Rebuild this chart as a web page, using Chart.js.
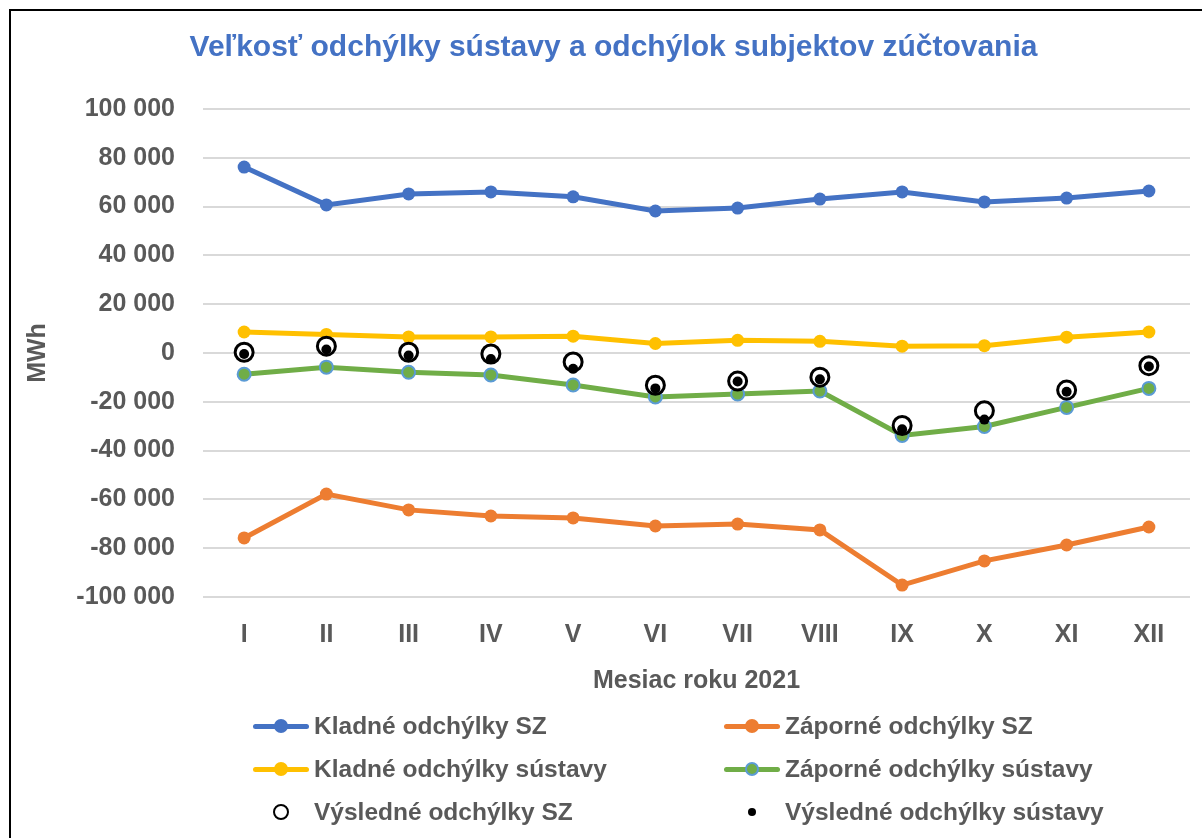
<!DOCTYPE html>
<html>
<head>
<meta charset="utf-8">
<script src="https://cdn.jsdelivr.net/npm/chart.js@4.4.1/dist/chart.umd.min.js"></script>
<style>
  html, body { margin: 0; padding: 0; background: #fff; }
  body { width: 1202px; height: 838px; position: relative; overflow: hidden; font-family: "Liberation Sans", Arial, sans-serif; }
  #frame { position: absolute; left: 9px; top: 9px; width: 1300px; height: 900px; border-left: 2.5px solid #000; border-top: 2.5px solid #000; box-sizing: border-box; }
  #wrap { position: absolute; left: 0; top: 0; width: 1202px; height: 838px; }
  #legend { position: absolute; left: 0; top: 0; width: 1202px; height: 838px; pointer-events: none; }
  .lg-item { position: absolute; height: 30px; display: flex; align-items: center; }
  .lg-text { position: absolute; font: bold 24.5px "Liberation Sans", Arial, sans-serif; color: #595959; white-space: nowrap; line-height: 30px; top: 0; }
</style>
</head>
<body>
<div id="frame"></div>
<div id="wrap"><canvas id="c" width="1202" height="838"></canvas></div>
<div id="legend"></div>
<script>
// ---- data ----
const months = ['I', 'II', 'III', 'IV', 'V', 'VI', 'VII', 'VIII', 'IX', 'X', 'XI', 'XII'];
const kladneSZ = [76200, 60700, 65200, 66000, 64000, 58200, 59400, 63100, 66000, 61900, 63500, 66400];
const zaporneSZ = [-75800, -57800, -64300, -66800, -67600, -70900, -70100, -72500, -95100, -85200, -78700, -71300];
const kladneSustavy = [8600, 7600, 6600, 6600, 6900, 3900, 5200, 4800, 2800, 3000, 6500, 8600];
const zaporneSustavy = [-8700, -5800, -7900, -9000, -13100, -18000, -16800, -15600, -33800, -30100, -22300, -14500];
const vysledneSZ = [300, 2800, 300, -400, -3700, -13200, -11500, -9900, -29700, -23700, -15200, -5200];
const vysledneSustavy = [-400, 1400, -1000, -2500, -6500, -14500, -11700, -10800, -31300, -27300, -15900, -5500];
const seriesNames = ['Kladné odchýlky SZ', 'Záporné odchýlky SZ', 'Kladné odchýlky sústavy', 'Záporné odchýlky sústavy', 'Výsledné odchýlky SZ', 'Výsledné odchýlky sústavy'];
const yMin = -100000, yMax = 100000, yStep = 20000;

const FONT = '"Liberation Sans", Arial, sans-serif';
const GRAY = '#595959';

function lineDs(label, data, color, order, ptBorder) {
  return {
    label, data, order,
    borderColor: color, backgroundColor: color,
    borderWidth: 5,
    pointRadius: 6.5, pointHoverRadius: 6.5,
    pointBackgroundColor: color,
    pointBorderColor: ptBorder || color,
    pointBorderWidth: ptBorder ? 2 : 0,
    tension: 0, fill: false
  };
}

const datasets = [
  lineDs(seriesNames[0], kladneSZ, '#4472C4', 5),
  lineDs(seriesNames[1], zaporneSZ, '#ED7D31', 4),
  lineDs(seriesNames[2], kladneSustavy, '#FFC000', 3),
  lineDs(seriesNames[3], zaporneSustavy, '#70AD47', 2, '#5B9BD5'),
  {
    label: seriesNames[4], data: vysledneSZ, order: 1, showLine: false,
    pointRadius: 9, pointHoverRadius: 9, pointBorderWidth: 3,
    pointBorderColor: '#000', pointBackgroundColor: '#fff',
    borderColor: '#000', backgroundColor: '#fff'
  },
  {
    label: seriesNames[5], data: vysledneSustavy, order: 0, showLine: false,
    pointRadius: 5, pointHoverRadius: 5, pointBorderWidth: 0,
    pointBorderColor: '#000', pointBackgroundColor: '#000',
    borderColor: '#000', backgroundColor: '#000'
  }
];

function fmt(v) {
  const s = Math.abs(v).toString().replace(/\B(?=(\d{3})+(?!\d))/g, ' ');
  return (v < 0 ? '-' : '') + s;
}

const htmlLegend = {
  id: 'htmlLegend',
  afterUpdate(chart) {
    const box = document.getElementById('legend');
    box.innerHTML = '';
    const cols = [{ mark: 281, text: 314 }, { mark: 752, text: 785 }];
    const rows = [726, 769, 812];
    chart.data.datasets.forEach((ds, i) => {
      const col = cols[i % 2], row = rows[Math.floor(i / 2)];
      const item = document.createElement('div');
      item.className = 'lg-item';
      item.style.left = '0px';
      item.style.top = (row - 15) + 'px';
      if (ds.showLine !== false) {
        const ln = document.createElement('div');
        ln.style.cssText = `position:absolute;left:${col.mark - 28}px;top:13px;width:56px;height:5px;border-radius:2.5px;background:${ds.borderColor};`;
        item.appendChild(ln);
        const pt = document.createElement('div');
        const r = 7;
        const bw = ds.pointBorderWidth || 0;
        pt.style.cssText = `position:absolute;left:${col.mark - r}px;top:${15 - r}px;width:${2 * r}px;height:${2 * r}px;border-radius:50%;box-sizing:border-box;background:${ds.pointBackgroundColor};border:${bw}px solid ${ds.pointBorderColor};`;
        item.appendChild(pt);
      } else {
        const big = ds.pointBackgroundColor === '#fff';
        const r = big ? 8 : 4;
        const pt = document.createElement('div');
        pt.style.cssText = `position:absolute;left:${col.mark - r}px;top:${15 - r}px;width:${2 * r}px;height:${2 * r}px;border-radius:50%;box-sizing:border-box;background:${ds.pointBackgroundColor};border:${big ? 2.5 : 0}px solid #000;`;
        item.appendChild(pt);
      }
      const tx = document.createElement('div');
      tx.className = 'lg-text';
      tx.style.left = col.text + 'px';
      tx.textContent = ds.label;
      item.appendChild(tx);
      box.appendChild(item);
    });
  }
};

new Chart(document.getElementById('c'), {
  type: 'line',
  data: { labels: months, datasets },
  plugins: [htmlLegend],
  options: {
    responsive: false,
    animation: false,
    events: [],
    layout: { padding: { left: 34, right: 9, top: 12, bottom: 138 } },
    plugins: {
      legend: { display: false },
      tooltip: { enabled: false },
      title: {
        display: true,
        text: 'Veľkosť odchýlky sústavy a odchýlok subjektov zúčtovania',
        color: '#4472C4',
        font: { family: FONT, size: 30, weight: 'bold', lineHeight: 1.2 },
        padding: { top: 17.5, bottom: 43.5 }
      }
    },
    scales: {
      x: {
        offset: true,
        grid: { display: false, drawTicks: false, offset: true },
        border: { display: false },
        ticks: { color: GRAY, font: { family: FONT, size: 25, weight: 'bold', lineHeight: 1.2 }, padding: 23, maxRotation: 0, autoSkip: false },
        title: { display: true, text: 'Mesiac roku 2021', color: GRAY, font: { family: FONT, size: 25, weight: 'bold', lineHeight: 1.2 }, padding: { top: 0, bottom: 4 } },
        afterFit(s) { s.height = 103; }
      },
      y: {
        min: yMin, max: yMax,
        grid: { color: '#D9D9D9', lineWidth: 2, drawTicks: false },
        border: { display: false },
        ticks: { stepSize: yStep, color: GRAY, font: { family: FONT, size: 25, weight: 'bold', lineHeight: 1.2 }, padding: 28, callback: (v) => fmt(v) },
        title: { display: true, text: 'MWh', color: GRAY, font: { family: FONT, size: 25, weight: 'bold', lineHeight: 1.2 }, padding: { top: -11, bottom: 0 } },
        afterFit(s) { s.width = 169; }
      }
    }
  }
});
</script>
</body>
</html>
